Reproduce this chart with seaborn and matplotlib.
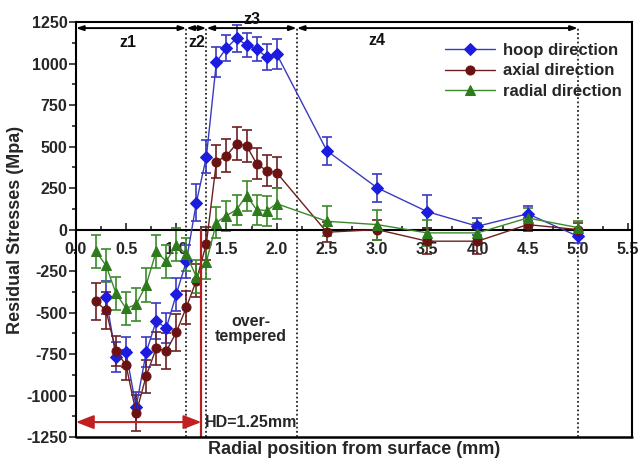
import matplotlib
matplotlib.use("Agg")
import matplotlib.pyplot as plt
import seaborn as sns
import pandas as pd
from matplotlib.ticker import MultipleLocator

# ---- data ----
hoop_x = [0.3, 0.4, 0.5, 0.6, 0.7, 0.8, 0.9, 1.0, 1.1, 1.2, 1.3, 1.4, 1.5, 1.6, 1.7, 1.8, 1.9, 2.0,
          2.5, 3.0, 3.5, 4.0, 4.5, 5.0]
hoop_y = [-409, -770, -740, -1070, -740, -550, -595, -390, -192, 163, 439, 1010, 1094, 1153, 1112, 1088,
          1040, 1058, 475, 252, 108, 20, 95, -40]
hoop_err = [100, 90, 90, 90, 90, 110, 90, 100, 100, 110, 100, 90, 80, 80, 70, 70, 80, 90,
            84, 84, 100, 50, 45, 40]

axial_x = [0.2, 0.3, 0.4, 0.5, 0.6, 0.7, 0.8, 0.9, 1.0, 1.1, 1.2, 1.3, 1.4, 1.5, 1.6, 1.7, 1.8, 1.9, 2.0,
           2.5, 3.0, 3.5, 4.0, 4.5, 5.0]
axial_y = [-433, -487, -733, -817, -1106, -883, -715, -733, -619, -469, -307, -84, 409, 445, 517, 505,
           397, 355, 343, -16, 0, -70, -70, 30, 0]
axial_err = [110, 110, 90, 90, 110, 100, 100, 110, 110, 100, 100, 100, 100, 100, 100, 95,
             95, 95, 95, 60, 60, 80, 80, 40, 40]

radial_x = [0.2, 0.3, 0.4, 0.5, 0.6, 0.7, 0.8, 0.9, 1.0, 1.1, 1.2, 1.3, 1.4, 1.5, 1.6, 1.7, 1.8, 1.9, 2.0,
            2.5, 3.0, 3.5, 4.0, 4.5, 5.0]
radial_y = [-132, -216, -385, -475, -451, -334, -132, -192, -90, -150, -285, -195, 42, 84, 120, 204,
            120, 114, 156, 50, 30, -20, -20, 70, 12]
radial_err = [100, 100, 100, 100, 100, 100, 100, 100, 100, 100, 100, 100, 95, 90, 90, 90,
              90, 90, 95, 90, 90, 80, 60, 60, 40]

series_names = ["hoop direction", "axial direction", "radial direction"]
zone_bounds = [0.0, 1.1, 1.3, 2.2, 5.0]
zone_labels = ["z1", "z2", "z3", "z4"]
hd_value = 1.25
x_ticks = [0.0, 0.5, 1.0, 1.5, 2.0, 2.5, 3.0, 3.5, 4.0, 4.5, 5.0, 5.5]
y_ticks = [-1250, -1000, -750, -500, -250, 0, 250, 500, 750, 1000, 1250]

# ---- style ----
sns.set_theme(style="white")
plt.rcParams["font.family"] = ["Liberation Sans", "DejaVu Sans"]
plt.rcParams["font.weight"] = "bold"

colors = {"hoop direction": "#1c1ce0", "axial direction": "#6b1212", "radial direction": "#2e7a1c"}
line_colors = {"hoop direction": "#3a3ac0", "axial direction": "#6b2020", "radial direction": "#3a8a2a"}
markers = {"hoop direction": "D", "axial direction": "o", "radial direction": "^"}
msize = {"hoop direction": 6.5, "axial direction": 6.5, "radial direction": 7.5}

frames = []
for name, xs, ys, es in [("hoop direction", hoop_x, hoop_y, hoop_err),
                         ("axial direction", axial_x, axial_y, axial_err),
                         ("radial direction", radial_x, radial_y, radial_err)]:
    frames.append(pd.DataFrame({"x": xs, "y": ys, "err": es, "series": name}))
df = pd.concat(frames, ignore_index=True)

fig = plt.figure(figsize=(6.43, 4.61), dpi=100)
ax = fig.add_axes([0.118, 0.052, 0.865, 0.9])

# error bars first
for name in series_names:
    d = df[df.series == name]
    ax.errorbar(d.x, d.y, yerr=d.err, fmt="none", ecolor=line_colors[name],
                elinewidth=1.2, capsize=3.5, capthick=1.2, zorder=2)

for name in series_names:
    d = df[df.series == name]
    sns.lineplot(data=d, x="x", y="y", ax=ax, color=line_colors[name], lw=1.0,
                 marker=markers[name], markersize=msize[name], markerfacecolor=colors[name],
                 markeredgecolor=colors[name], label=name, zorder=3, sort=True)

ax.set_xlim(0, 5.54)
ax.set_ylim(-1250, 1250)

# zone lines
for xb in zone_bounds[1:]:
    ax.plot([xb, xb], [-1250, 1214], ls=(0, (1.2, 1.6)), color="black", lw=1.1, zorder=1)
for i in range(4):
    ax.annotate("", xy=(zone_bounds[i], 1214), xytext=(zone_bounds[i + 1], 1214),
                arrowprops=dict(arrowstyle="<|-|>,head_length=0.35,head_width=0.12",
                                color="black", lw=1.4, shrinkA=0, shrinkB=0))
zone_text_pos = [(0.52, 1125), (1.2, 1125), (1.75, 1265), (3.0, 1140)]
for lab, (tx, ty) in zip(zone_labels, zone_text_pos):
    ax.text(tx, ty, lab, ha="center", va="center", fontsize=11.5, fontweight="bold",
            color="#111111", clip_on=False)

# HD marker
ax.plot([hd_value, hd_value], [-1250, 0], color="#b02020", lw=1.6, zorder=4)
ax.annotate("", xy=(0.0, -1160), xytext=(hd_value, -1160),
            arrowprops=dict(arrowstyle="<|-|>,head_length=0.9,head_width=0.35",
                            color="#c02020", lw=1.5, shrinkA=0, shrinkB=0))
ax.text(1.28, -1160, "HD=1.25mm", ha="left", va="center", fontsize=11.5, fontweight="bold")
ax.text(1.74, -600, "over-\ntempered", ha="center", va="center", fontsize=11.5,
        fontweight="bold", linespacing=1.0)

# axes styling
ax.spines["bottom"].set_position(("data", 0))
for s in ["left", "right", "top", "bottom"]:
    ax.spines[s].set_color("black")
    ax.spines[s].set_linewidth(1.5)
ax.plot([0, 1], [0, 0], transform=ax.transAxes, color="black", lw=1.8, clip_on=False, zorder=5)
ax.set_xticks(x_ticks)
ax.set_xticklabels([f"{v:.1f}" for v in x_ticks])
ax.set_yticks(y_ticks)
ax.set_yticklabels([str(v) for v in y_ticks])
ax.xaxis.set_minor_locator(MultipleLocator(0.25))
ax.yaxis.set_minor_locator(MultipleLocator(125))
ax.tick_params(axis="x", which="both", direction="in", bottom=True, length=5, width=1.2,
               labelsize=11.5, pad=9)
ax.tick_params(axis="x", which="minor", length=3)
ax.tick_params(axis="y", which="both", direction="out", left=True, length=5, width=1.2,
               labelsize=11.5, pad=1)
ax.tick_params(axis="y", which="minor", length=3)
for lbl in ax.get_xticklabels() + ax.get_yticklabels():
    lbl.set_fontweight("bold")

ax.set_xlabel("Radial position from surface (mm)", fontsize=13, fontweight="bold", va="center")
ax.set_ylabel("Residual Stresses (Mpa)", fontsize=13, fontweight="bold", labelpad=2)
ax.xaxis.set_label_coords(0.5, -0.031)

leg = ax.legend(loc="upper right", bbox_to_anchor=(1.0, 0.975), frameon=False,
                fontsize=12, handlelength=3.0, handletextpad=0.5, labelspacing=0.35,
                borderaxespad=0.2)
for t in leg.get_texts():
    t.set_fontweight("bold")

fig.savefig("out.png", dpi=100)
